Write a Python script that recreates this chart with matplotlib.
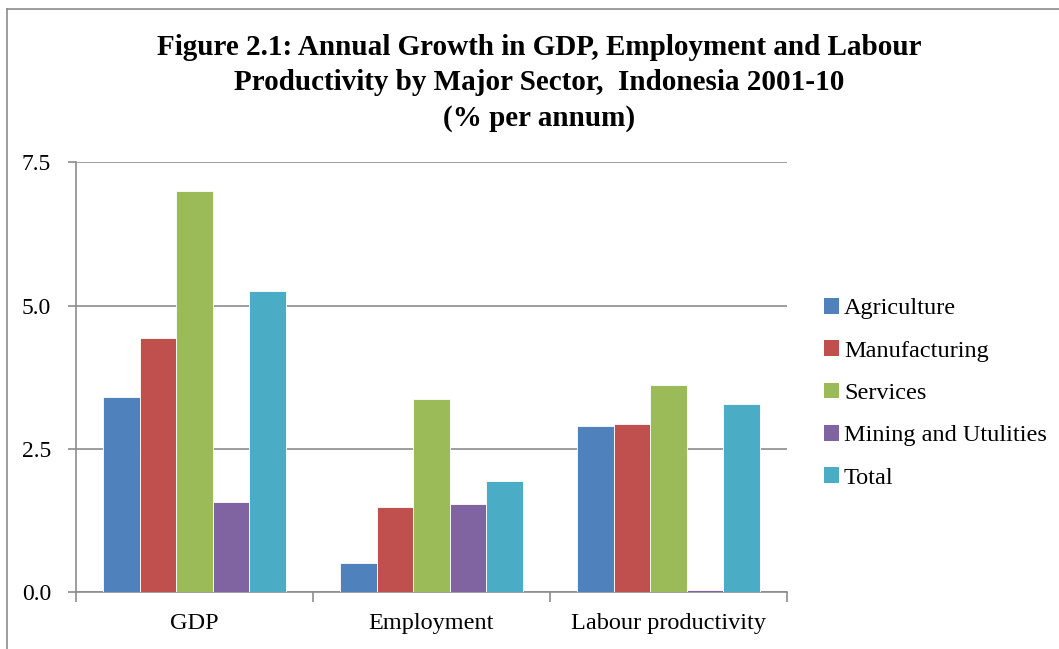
import numpy as np
import matplotlib
matplotlib.use("Agg")
import matplotlib.pyplot as plt
from matplotlib.lines import Line2D
from matplotlib.patches import Patch

# growth rates, % per annum, 2001-10
measures = ["GDP", "Employment", "Labour productivity"]
sectors = ["Agriculture", "Manufacturing", "Services", "Mining and Utulities", "Total"]
agriculture = [3.41, 0.50, 2.90]
manufacturing = [4.44, 1.48, 2.94]
services = [7.00, 3.37, 3.61]
mining = [1.57, 1.53, 0.03]
total = [5.25, 1.94, 3.28]
yticks = [0.0, 2.5, 5.0, 7.5]

colors = ["#4F81BD", "#C0504D", "#9BBB59", "#8064A2", "#4BACC6"]
grid_col = "#8C8C8C"

plt.rcParams["font.family"] = ["Liberation Serif", "DejaVu Serif"]

fig = plt.figure(figsize=(10.59, 6.49), dpi=100)
ax = fig.add_axes([0.0718, 0.0878, 0.6712, 0.6622])

series = [agriculture, manufacturing, services, mining, total]
x = np.arange(len(measures))
w = 0.154
for i, vals in enumerate(series):
    ax.bar(x + (i - 2) * w, vals, w, color=colors[i], edgecolor="white",
           linewidth=0.6, zorder=3)

ax.set_xlim(-0.5, 2.5)
ax.set_ylim(0, 7.5)
ax.set_yticks(yticks)
ax.set_yticklabels([f"{t:.1f}" for t in yticks], fontsize=17)
ax.yaxis.grid(True, color=grid_col, linewidth=1.2, zorder=0)
ax.set_axisbelow(True)

ax.set_xticks(x)
ax.set_xticklabels(measures, fontsize=17.5)
ax.tick_params(axis="x", length=0, pad=15)
ax.set_xticks(np.arange(-0.5, 3.0, 1.0), minor=True)
ax.tick_params(axis="x", which="minor", length=7, width=1.2, color=grid_col)
ax.tick_params(axis="y", length=6, width=1.2, color=grid_col, pad=12)

for s in ["top", "right"]:
    ax.spines[s].set_visible(False)
for s in ["left", "bottom"]:
    ax.spines[s].set_color(grid_col)
    ax.spines[s].set_linewidth(1.2)

fig.text(0.509, 0.948,
         "Figure 2.1: Annual Growth in GDP, Employment and Labour\n"
         "Productivity by Major Sector,  Indonesia 2001-10\n"
         "(% per annum)",
         ha="center", va="top", fontsize=21, fontweight="bold",
         linespacing=1.4)

handles = [Patch(facecolor=c, edgecolor="none") for c in colors]
fig.legend(handles, sectors, loc="upper left", bbox_to_anchor=(0.769, 0.556),
           frameon=False, fontsize=17.5, handlelength=0.62, handleheight=0.62,
           handletextpad=0.2, labelspacing=0.86, borderaxespad=0)

# outer chart frame
fig.add_artist(Line2D([0.0066, 0.0066], [0.0, 0.986], color="#8C8C8C",
                      linewidth=1.2, transform=fig.transFigure))
fig.add_artist(Line2D([0.0066, 1.0], [0.986, 0.986], color="#8C8C8C",
                      linewidth=1.2, transform=fig.transFigure))

fig.savefig("out.png", dpi=100)
